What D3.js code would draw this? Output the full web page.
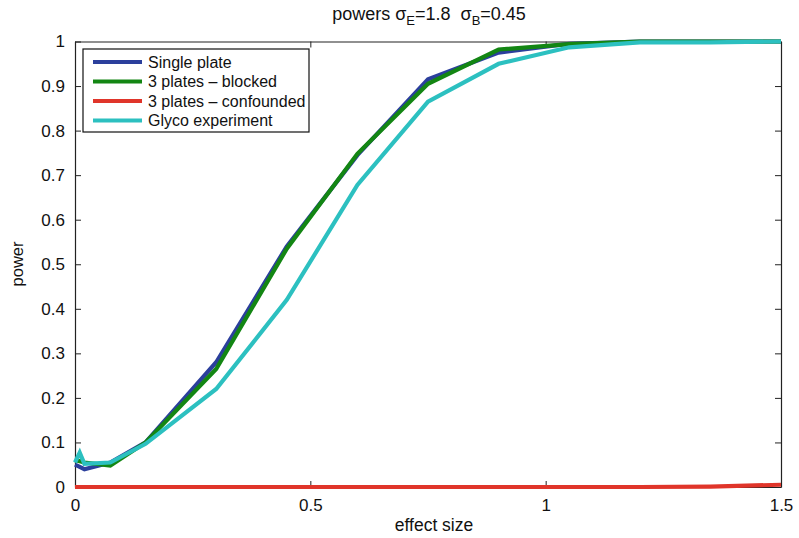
<!DOCTYPE html>
<html>
<head>
<meta charset="utf-8">
<script src="https://cdn.jsdelivr.net/npm/d3@7"></script>
<style>
  body { margin: 0; background: #fff; }
  svg { display: block; font-family: "Liberation Sans", Arial, Helvetica, sans-serif; }
</style>
</head>
<body>
<svg id="chart" width="799" height="538"></svg>
<script>
const effectSize = [0, 0.01, 0.02, 0.075, 0.15, 0.3, 0.45, 0.6, 0.75, 0.9, 1.05, 1.2, 1.35, 1.5];
const singlePlate = [0.05, 0.045, 0.04, 0.055, 0.1, 0.28, 0.54, 0.745, 0.915, 0.975, 0.995, 1, 1, 1];
const blocked = [0.06, 0.058, 0.055, 0.048, 0.1, 0.265, 0.535, 0.748, 0.905, 0.982, 0.994, 1, 1, 1];
const confounded = [0, 0, 0, 0, 0, 0, 0, 0, 0, 0, 0, 0, 0.001, 0.005];
const glyco = [0.055, 0.077, 0.052, 0.055, 0.097, 0.22, 0.42, 0.678, 0.865, 0.95, 0.987, 0.998, 0.998, 1];
const seriesNames = ["Single plate", "3 plates \u2013 blocked", "3 plates \u2013 confounded", "Glyco experiment"];
const seriesColors = ["#2b3f9c", "#138613", "#e0352a", "#2cc0c0"];
const xTicks = [0, 0.5, 1, 1.5];
const yTicks = [0, 0.1, 0.2, 0.3, 0.4, 0.5, 0.6, 0.7, 0.8, 0.9, 1];

const seriesValues = [singlePlate, blocked, confounded, glyco];
const drawOrder = [0, 1, 2, 3];

const svg = d3.select("#chart");
const L = 75, R = 781, T = 41.5, B = 487;
const x = d3.scaleLinear().domain([0, 1.5]).range([L, R]);
const y = d3.scaleLinear().domain([0, 1]).range([B, T]);
const FONT = "'Liberation Sans', Arial, sans-serif";

// box with inward ticks
const tickLen = 6;
const axisColor = "#222";

const axisBottom = d3.axisBottom(x).tickValues(xTicks).tickSizeInner(-tickLen).tickSizeOuter(0).tickPadding(10).tickFormat(d => String(d));
const axisTop = d3.axisTop(x).tickValues(xTicks).tickSizeInner(-tickLen).tickSizeOuter(0).tickFormat("");
const axisLeft = d3.axisLeft(y).tickValues(yTicks).tickSizeInner(-tickLen).tickSizeOuter(0).tickPadding(10).tickFormat(d => String(+d.toFixed(1)));
const axisRight = d3.axisRight(y).tickValues(yTicks).tickSizeInner(-tickLen).tickSizeOuter(0).tickFormat("");

const gb = svg.append("g").attr("transform", `translate(0,${B})`).call(axisBottom);
const gt = svg.append("g").attr("transform", `translate(0,${T})`).call(axisTop);
const gl = svg.append("g").attr("transform", `translate(${L},0)`).call(axisLeft);
const gr = svg.append("g").attr("transform", `translate(${R},0)`).call(axisRight);
[gb, gt, gl, gr].forEach(a => {
  a.selectAll("path.domain").attr("stroke", axisColor).attr("stroke-width", 1.2);
  a.selectAll(".tick line").attr("stroke", axisColor).attr("stroke-width", 1);
  a.selectAll("text").attr("font-size", 17).attr("fill", "#111").attr("font-family", FONT);
});
gb.selectAll("text").attr("dy", "0.85em");

// lines (drawn above the box like MATLAB)
const line = d3.line().x((d, i) => x(effectSize[i])).y(d => y(d));
const g = svg.append("g");
drawOrder.forEach(k => {
  g.append("path")
    .datum(seriesValues[k])
    .attr("d", line)
    .attr("fill", "none")
    .attr("stroke", seriesColors[k])
    .attr("stroke-width", 4.2)
    .attr("stroke-linejoin", "miter");
});

// legend
const lg = svg.append("g");
lg.append("rect").attr("x", 83).attr("y", 49).attr("width", 226).attr("height", 83)
  .attr("fill", "#fff").attr("stroke", "#111").attr("stroke-width", 1.2);
seriesNames.forEach((name, i) => {
  const yy = 62 + i * 19.5;
  lg.append("line").attr("x1", 93).attr("x2", 142).attr("y1", yy).attr("y2", yy)
    .attr("stroke", seriesColors[i]).attr("stroke-width", 4.2);
  lg.append("text").attr("x", 148).attr("y", yy).attr("dy", "0.36em")
    .attr("font-size", 16).attr("fill", "#111").text(name);
});

// title
const title = svg.append("text").attr("x", 429).attr("y", 20).attr("text-anchor", "middle")
  .attr("font-size", 18).attr("fill", "#111");
title.append("tspan").text("powers \u03C3");
title.append("tspan").attr("font-size", 13).attr("dy", 5).text("E");
title.append("tspan").attr("dy", -5).text("=1.8\u00A0\u00A0\u03C3");
title.append("tspan").attr("font-size", 13).attr("dy", 5).text("B");
title.append("tspan").attr("dy", -5).text("=0.45");

// axis labels
svg.append("text").attr("x", 434).attr("y", 531).attr("text-anchor", "middle")
  .attr("font-size", 17.5).attr("fill", "#111").text("effect size");
svg.append("text").attr("transform", "translate(23,264) rotate(-90)").attr("text-anchor", "middle")
  .attr("font-size", 16.5).attr("fill", "#111").text("power");
</script>
</body>
</html>
